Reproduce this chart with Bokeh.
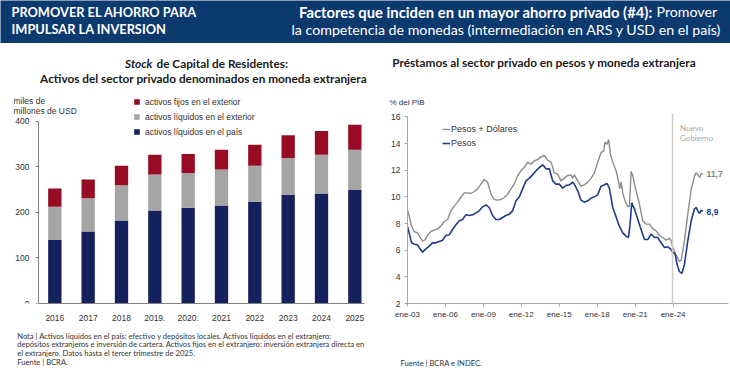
from bokeh.plotting import figure
from bokeh.models import Range1d, FixedTicker, Legend, LegendItem, Span, ColumnDataSource
from bokeh.layouts import column, row
from bokeh.embed import file_html
from bokeh.resources import INLINE
from bokeh.core.properties import value

# ---------------- data: left chart (miles de millones de USD) ----------------
anios = ["2016", "2017", "2018", "2019.", "2020.", "2021", "2022", "2023", "2024", "2025"]
liquidos_pais = [139, 158, 182, 204, 210, 215, 223, 238, 241, 249]
liquidos_exterior = [73, 73, 77, 79, 76, 79, 79, 81, 85, 88]
fijos_exterior = [40, 41, 43, 43, 42, 43, 46, 50, 52, 55]
ticks_usd = [0, 100, 200, 300, 400]

# ---------------- data: right chart (% del PIB) ----------------
fecha_total = [2003.00, 2003.13, 2003.32, 2003.53, 2003.79, 2004.00, 2004.19, 2004.37, 2004.58, 2004.85,
               2005.11, 2005.37, 2005.64, 2005.90, 2006.17, 2006.43, 2006.69, 2006.96, 2007.22, 2007.49,
               2007.75, 2008.01, 2008.28, 2008.54, 2008.80, 2009.07, 2009.33, 2009.60, 2009.86, 2010.12,
               2010.39, 2010.65, 2010.92, 2011.18, 2011.44, 2011.71, 2011.97, 2012.23, 2012.50, 2012.76,
               2013.03, 2013.29, 2013.55, 2013.82, 2014.08, 2014.35, 2014.61, 2014.87, 2015.14, 2015.40,
               2015.66, 2015.93, 2016.06, 2016.19, 2016.46, 2016.72, 2016.98, 2017.25, 2017.51, 2017.78,
               2018.04, 2018.30, 2018.51, 2018.62, 2018.78, 2018.91, 2019.04, 2019.23, 2019.49, 2019.68,
               2019.78, 2019.89, 2020.02, 2020.20, 2020.41, 2020.55, 2020.68, 2020.81, 2021.07, 2021.34,
               2021.60, 2021.87, 2022.13, 2022.39, 2022.66, 2022.92, 2023.18, 2023.45, 2023.71, 2023.84,
               2023.98, 2024.24, 2024.50, 2024.64, 2024.90, 2025.16, 2025.43, 2025.69, 2025.82, 2025.96,
               2026.09, 2026.22, 2026.35]
pesos_mas_dolares = [9.0, 8.6, 7.8, 7.4, 7.3, 6.95, 6.7, 6.75, 7.1, 7.4,
                     7.5, 7.6, 7.8, 8.15, 8.3, 8.95, 9.3, 9.6, 9.95, 10.3,
                     10.3, 10.25, 10.4, 10.6, 10.95, 11.3, 11.1, 10.2, 9.8, 9.75,
                     9.8, 9.95, 10.2, 10.6, 10.95, 11.6, 11.95, 12.2, 12.6, 12.45,
                     12.7, 12.8, 13.0, 13.1, 12.75, 12.6, 11.8, 11.7, 11.2, 11.4,
                     11.6, 11.65, 11.4, 11.65, 11.2, 10.8, 10.9, 11.1, 11.4, 11.8,
                     12.6, 13.3, 13.45, 14.1, 13.95, 14.3, 13.2, 12.6, 11.95, 11.2,
                     10.6, 11.1, 10.3, 9.7, 9.25, 9.3, 11.9, 11.6, 10.45, 9.45,
                     8.2, 7.95, 7.95, 7.6, 7.45, 7.1, 6.95, 6.75, 6.9, 6.7,
                     6.2, 5.65, 5.15, 5.25, 6.7, 8.7, 10.55, 11.55, 11.8, 11.65,
                     11.45, 11.75, 11.7]
fecha_pesos = [2003.00, 2003.13, 2003.32, 2003.53, 2003.79, 2004.00, 2004.19, 2004.45, 2004.72, 2004.98,
               2005.24, 2005.51, 2005.77, 2006.03, 2006.30, 2006.56, 2006.83, 2007.09, 2007.35, 2007.62,
               2007.88, 2008.15, 2008.41, 2008.67, 2008.94, 2009.20, 2009.46, 2009.73, 2009.99, 2010.26,
               2010.52, 2010.78, 2011.05, 2011.31, 2011.58, 2011.84, 2012.10, 2012.37, 2012.63, 2012.89,
               2013.16, 2013.42, 2013.69, 2013.95, 2014.21, 2014.48, 2014.74, 2015.01, 2015.27, 2015.53,
               2015.80, 2016.06, 2016.19, 2016.46, 2016.72, 2016.98, 2017.25, 2017.51, 2017.78, 2018.04,
               2018.30, 2018.57, 2018.78, 2018.96, 2019.23, 2019.49, 2019.75, 2020.02, 2020.28, 2020.47,
               2020.60, 2020.73, 2020.94, 2021.21, 2021.47, 2021.73, 2022.00, 2022.26, 2022.53, 2022.79,
               2023.05, 2023.32, 2023.58, 2023.79, 2023.98, 2024.16, 2024.32, 2024.50, 2024.69, 2024.90,
               2025.16, 2025.43, 2025.69, 2025.82, 2025.96, 2026.09, 2026.22, 2026.35]
pesos = [7.8, 7.3, 6.55, 6.45, 6.4, 6.1, 5.85, 6.1, 6.3, 6.55,
         6.55, 6.65, 6.75, 7.1, 7.15, 7.55, 7.9, 8.2, 8.3, 8.65,
         8.6, 8.65, 8.8, 8.95, 9.25, 9.4, 9.2, 8.6, 8.3, 8.3,
         8.45, 8.6, 8.7, 8.95, 9.7, 10.0, 10.6, 11.2, 11.4, 11.65,
         11.95, 12.2, 12.4, 12.1, 12.1, 11.2, 10.95, 10.95, 10.65, 10.85,
         10.9, 11.1, 10.95, 10.45, 9.75, 9.6, 9.7, 9.9, 10.0, 10.15,
         10.8, 10.9, 11.0, 10.65, 9.2, 8.5, 7.8, 7.3, 7.05, 6.95,
         7.95, 9.55, 9.1, 8.3, 7.55, 6.8, 6.8, 7.2, 6.95, 6.95,
         6.55, 6.2, 6.25, 6.1, 5.85, 5.7, 4.9, 4.4, 4.25, 4.95,
         6.7, 8.2, 9.1, 9.2, 8.95, 8.75, 9.0, 8.9]
nuevo_gobierno = 2023.95
ticks_pib = [2, 4, 6, 8, 10, 12, 14, 16]
ticks_fecha = [2003, 2006, 2009, 2012, 2015, 2018, 2021, 2024]

# ---------------- styles ----------------
NAVY_BAR = "#14215c"
GRAY_BAR = "#a5a5a5"
RED_BAR = "#970c24"
HEADER = "#0c3a6e"
GRAY_LINE = "#8c8c8c"
BLUE_LINE = "#203c86"
TXT = "#1a1a1a"
SANS = "Liberation Sans"
CAL = "Lato"


def no_align(p):
    try:
        p.frame_align = False
    except Exception:
        pass


def text_fig(w, h, bg="white"):
    p = figure(width=w, height=h, x_range=Range1d(0, w), y_range=Range1d(h, 0), title=None,
               x_axis_type=None, y_axis_type=None, output_backend="svg",
               toolbar_location=None, min_border=0)
    no_align(p)
    p.grid.visible = False
    p.outline_line_color = None
    p.background_fill_color = bg
    p.border_fill_color = bg
    return p


def txt(p, x, y, s, size, color=TXT, style="normal", align="left", baseline="middle", font=CAL):
    p.text(x=[x], y=[y], text=[s], text_font=value(font), text_font_size=f"{size}px",
           text_color=color, text_font_style=style, text_align=align, text_baseline=baseline)


# ---------------- header ----------------
hdr = text_fig(730, 43, HEADER)
txt(hdr, 11, 11, "PROMOVER EL AHORRO PARA", 12.8, "white", "bold", baseline="alphabetic")
txt(hdr, 11, 28.5, "IMPULSAR LA INVERSION", 12.8, "white", "bold", baseline="alphabetic")
txt(hdr, 652, 11, "Factores que inciden en un mayor ahorro privado (#4):", 14.8, "white", "bold",
    align="right", baseline="alphabetic")
txt(hdr, 656, 11, "Promover", 14.2, "white", baseline="alphabetic")
txt(hdr, 721, 28.5, "la competencia de monedas (intermediación en ARS y USD en el país)", 14.2, "white",
    align="right", baseline="alphabetic")

# ---------------- left column ----------------
lt = text_fig(380, 52)
txt(lt, 152, 19.5, "Stock", 11.8, TXT, "bold italic", align="right")
txt(lt, 156, 19.5, "de Capital de Residentes:", 11.8, TXT, "bold")
txt(lt, 203, 34.5, "Activos del sector privado denominados en moneda extranjera", 11.8, TXT, "bold",
    align="center")

src = ColumnDataSource(dict(x=list(range(len(anios))), pais=liquidos_pais,
                            ext=liquidos_exterior, fijos=fijos_exterior))
lc = figure(width=380, height=228, x_range=Range1d(-1.48, 9.29), y_range=Range1d(0, 456),
            title=None, output_backend="svg", toolbar_location=None)
no_align(lc)
lc.min_border_left = 5
lc.min_border_right = 16
lc.min_border_top = 0
lc.min_border_bottom = 19
lc.outline_line_color = None
lc.grid.visible = False
rs = lc.vbar_stack(["pais", "ext", "fijos"], x="x", width=0.4, source=src,
                   color=[NAVY_BAR, GRAY_BAR, RED_BAR], line_color=None)
lc.yaxis.fixed_location = -0.49
lc.yaxis.ticker = FixedTicker(ticks=ticks_usd)
lc.yaxis.bounds = (0, 400)
lc.xaxis.ticker = FixedTicker(ticks=list(range(len(anios))))
lc.xaxis.major_label_overrides = {i: a for i, a in enumerate(anios)}
lc.xaxis.bounds = (-0.49, 9.29)
for ax in (lc.xaxis[0], lc.yaxis[0]):
    ax.axis_line_color = "#808080"
    ax.major_label_text_font = SANS
    ax.major_label_text_font_size = "8.5px"
    ax.major_label_text_color = "#333333"
    ax.minor_tick_line_color = None
    ax.major_tick_in = 0
lc.yaxis.major_tick_out = 3
lc.yaxis.major_tick_line_color = "#808080"
lc.yaxis.major_label_standoff = 6
lc.xaxis.major_tick_line_color = None
lc.xaxis.major_label_standoff = 5

leg = Legend(items=[LegendItem(label="activos fijos en el exterior", renderers=[rs[2]]),
                    LegendItem(label="activos líquidos en el exterior", renderers=[rs[1]]),
                    LegendItem(label="activos líquidos en el país", renderers=[rs[0]])],
             location=(128, 164))
leg.label_text_font = SANS
leg.label_text_font_size = "8.5px"
leg.label_text_color = "#333333"
leg.glyph_width = 7
leg.glyph_height = 7
leg.label_height = 15
leg.label_standoff = 5
leg.padding = 0
leg.spacing = 0
leg.margin = 0
leg.border_line_color = None
leg.background_fill_alpha = 0
lc.add_layout(leg)

lc.text(x=[-1.24, -1.24], y=[445, 422], text=["miles de", "millones de USD"], text_font=value(SANS),
        text_font_size="8.5px", text_color="#333333", text_align="left", text_baseline="middle")

ln = text_fig(380, 45)
notas = ["Nota |  Activos líquidos en el país: efectivo y depósitos locales. Activos líquidos en el extranjero:",
         "depósitos extranjeros e inversión de cartera. Activos fijos en el extranjero: inversión extranjera directa en",
         "el extranjero. Datos hasta el tercer trimestre de 2025.",
         "Fuente | BCRA."]
for i, s in enumerate(notas):
    txt(ln, 16.7, 12 + 8.7 * i, s, 7.6, "#333333")

# ---------------- right column ----------------
rt = text_fig(350, 70)
txt(rt, 11.7, 18.7, "Préstamos al sector privado en pesos y moneda extranjera", 11.8, TXT, "bold")
txt(rt, 9, 58.7, "% del PIB", 8, "#333333", font=SANS)

rc = figure(width=350, height=210, x_range=Range1d(2003.0, 2028.38), y_range=Range1d(2, 16.25),
            title=None, output_backend="svg", toolbar_location=None)
no_align(rc)
rc.min_border_left = 27
rc.min_border_right = 2
rc.min_border_top = 0
rc.min_border_bottom = 20
rc.outline_line_color = None
rc.grid.visible = False
rc.add_layout(Span(location=nuevo_gobierno, dimension="height", line_color="#cccccc", line_width=1.5))
r_tot = rc.line(fecha_total, pesos_mas_dolares, line_color=GRAY_LINE, line_width=1.4)
r_pes = rc.line(fecha_pesos, pesos, line_color=BLUE_LINE, line_width=1.6)
rc.yaxis.ticker = FixedTicker(ticks=ticks_pib)
rc.yaxis.bounds = (2, 16)
rc.xaxis.ticker = FixedTicker(ticks=ticks_fecha)
rc.xaxis.major_label_overrides = {t: f"ene-{t % 100:02d}" for t in ticks_fecha}
for ax in (rc.xaxis[0], rc.yaxis[0]):
    ax.axis_line_color = "#a6a6a6"
    ax.major_tick_line_color = "#a6a6a6"
    ax.major_label_text_font = SANS
    ax.major_label_text_color = "#333333"
    ax.minor_tick_line_color = None
    ax.major_tick_in = 0
    ax.major_tick_out = 3
rc.yaxis.major_label_text_font_size = "8.5px"
rc.xaxis.major_label_text_font_size = "8px"
rc.yaxis.major_label_standoff = 4
rc.xaxis.major_label_standoff = 3

leg2 = Legend(items=[LegendItem(label="Pesos + Dólares", renderers=[r_tot]),
                     LegendItem(label="Pesos", renderers=[r_pes])],
              location=(35, 153))
leg2.label_text_font = SANS
leg2.label_text_font_size = "9px"
leg2.label_text_color = "#333333"
leg2.glyph_width = 8
leg2.glyph_height = 14
leg2.label_height = 14
leg2.label_standoff = 1
leg2.padding = 0
leg2.spacing = 0
leg2.margin = 0
leg2.border_line_color = None
leg2.background_fill_alpha = 0
rc.add_layout(leg2)

rc.text(x=[2024.55, 2024.55], y=[15.2, 14.4], text=["Nuevo", "Gobierno"], text_font=value(CAL),
        text_font_size="8px", text_color="#a6a6a6", text_baseline="middle")
rc.text(x=[fecha_total[-1] + 0.3], y=[pesos_mas_dolares[-1]],
        text=[f"{pesos_mas_dolares[-1]:.1f}".replace(".", ",")], text_font=value(SANS),
        text_font_size="8.5px", text_color="#7f7f7f", text_font_style="bold", text_baseline="middle")
rc.text(x=[fecha_pesos[-1] + 0.3], y=[pesos[-1]],
        text=[f"{pesos[-1]:.1f}".replace(".", ",")], text_font=value(SANS),
        text_font_size="8.5px", text_color=BLUE_LINE, text_font_style="bold", text_baseline="middle")

rn = text_fig(350, 45)
txt(rn, 20, 39.7, "Fuente | BCRA e INDEC.", 7.6, "#333333")

layout = column(hdr, row(column(lt, lc, ln), column(rt, rc, rn)))

with open("out.html", "w") as f:
    f.write(file_html(layout, INLINE))
